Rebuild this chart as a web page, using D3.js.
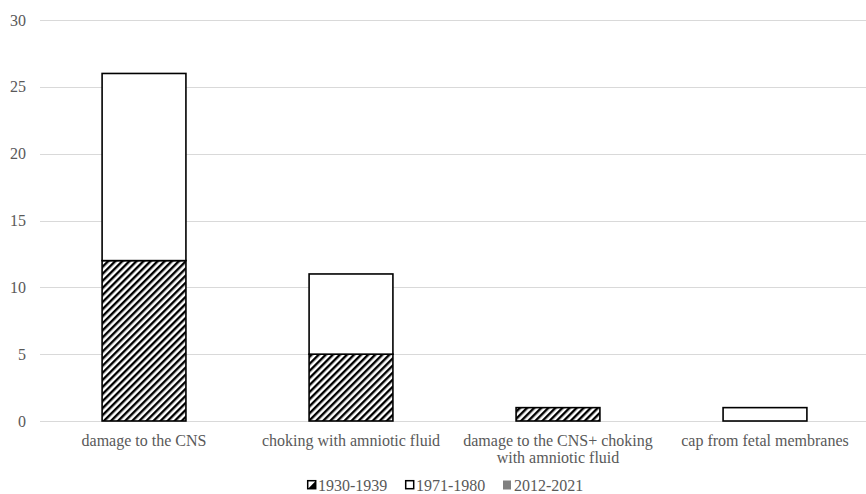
<!DOCTYPE html>
<html><head><meta charset="utf-8">
<script src="https://cdn.jsdelivr.net/npm/d3@7"></script>
<style>body{margin:0;background:#fff;} svg{display:block;} text{font-family:"Liberation Serif","Times New Roman",serif;}</style>
</head><body>
<script>
const categories = [["damage to the CNS"], ["choking with amniotic fluid"], ["damage to the CNS+ choking", "with amniotic fluid"], ["cap from fetal membranes"]];
const seriesNames = ["1930-1939", "1971-1980", "2012-2021"];
const s1930 = [12, 5, 1, 0];
const s1971 = [14, 6, 0, 1];
const s2012 = [0, 0, 0, 0];
const yTicks = [0, 5, 10, 15, 20, 25, 30];

const W = 866, H = 494;
const margin = {left: 40};
const FS = 16;
const svg = d3.select("body").append("svg").attr("width", W).attr("height", H);
const defs = svg.append("defs");
const pat = defs.append("pattern").attr("id", "hatch").attr("patternUnits", "userSpaceOnUse")
  .attr("width", 5).attr("height", 5).attr("patternTransform", "rotate(45)");
pat.append("rect").attr("width", 5).attr("height", 5).attr("fill", "#fff");
pat.append("rect").attr("x", 0).attr("width", 2.4).attr("height", 5).attr("fill", "#000");

const x = d3.scaleBand().domain(d3.range(categories.length)).range([margin.left, 869]).paddingInner(0.595).paddingOuter(0.3);
const y = d3.scaleLinear().domain([0, 30]).range([421, 20]);

// grid
svg.append("g").selectAll("line").data(yTicks).join("line")
  .attr("x1", margin.left).attr("x2", W).attr("y1", d => Math.round(y(d)) + 0.5).attr("y2", d => Math.round(y(d)) + 0.5)
  .attr("stroke", "#d9d9d9").attr("stroke-width", 1);

const yAxis = d3.axisLeft(y).tickValues(yTicks).tickSize(0).tickPadding(0);
const ga = svg.append("g").attr("transform", `translate(${26},0)`).call(yAxis);
ga.attr("font-family", null);
ga.select(".domain").remove();
ga.selectAll("text").attr("font-size", FS).attr("fill", "#595959");

const stackData = categories.map((c, i) => ({i, a: s1930[i], b: s1971[i], c: s2012[i]}));
const stack = d3.stack().keys(["a", "b", "c"])(stackData);
const fills = ["url(#hatch)", "#fff", "#808080"];
stack.forEach((layer, li) => {
  svg.append("g").selectAll("rect").data(layer.filter(d => d[1] - d[0] > 0)).join("rect")
    .attr("x", d => x(d.data.i)).attr("width", x.bandwidth())
    .attr("y", d => y(d[1])).attr("height", d => y(d[0]) - y(d[1]))
    .attr("fill", fills[li]).attr("stroke", "#000").attr("stroke-width", 1.6);
});

// category labels
const cl = svg.append("g");
categories.forEach((lines, i) => {
  const t = cl.append("text").attr("text-anchor", "middle")
    .attr("font-size", FS).attr("fill", "#595959");
  lines.forEach((ln, k) => t.append("tspan").attr("x", x(i) + x.bandwidth() / 2).attr("y", 446 + k * 17).text(ln));
});

// legend
const legX = [307, 405, 503];
const lg = svg.append("g");
seriesNames.forEach((n, i) => {
  const g = lg.append("g").attr("transform", `translate(${legX[i]},${485})`);
  if (i === 0) {
    g.append("rect").attr("x", 0.7).attr("y", -4.3).attr("width", 8).attr("height", 8).attr("fill", "#fff").attr("stroke", "#000").attr("stroke-width", 1.5);
    g.append("path").attr("d", "M1,3.7 L8.7,-4 L8.7,3.7 Z").attr("fill", "#000");
  } else if (i === 1) {
    g.append("rect").attr("x", 0.7).attr("y", -4.3).attr("width", 8).attr("height", 8).attr("fill", "#fff").attr("stroke", "#000").attr("stroke-width", 1.5);
  } else {
    g.append("rect").attr("x", 0).attr("y", -4.5).attr("width", 8).attr("height", 9).attr("fill", "#808080");
  }
  g.append("text").attr("x", 11).attr("y", 5.5)
    .attr("font-size", FS).attr("fill", "#595959").text(n);
});
</script>
</body></html>
